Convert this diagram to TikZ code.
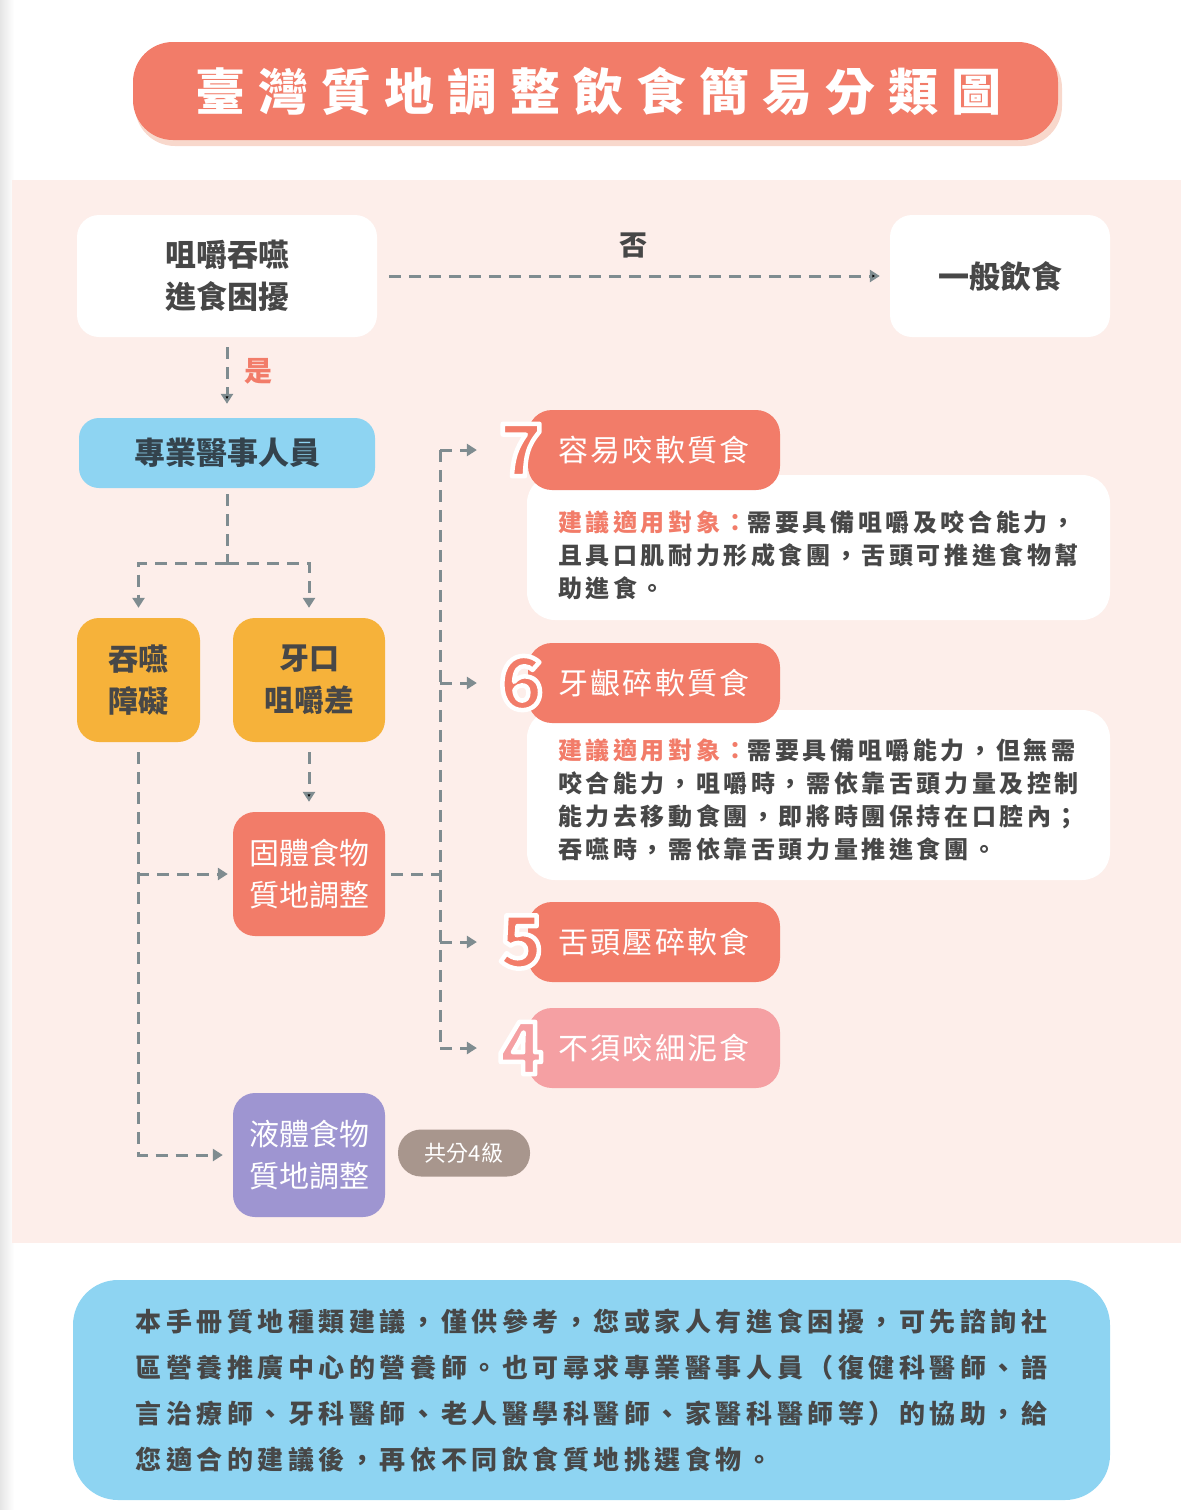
\documentclass[tikz,border=0pt]{standalone}
\usepackage{fontspec}
\usepackage{tikz}
\usetikzlibrary{arrows.meta}

\setmainfont{Noto Sans CJK TC}
\newfontfamily\titlefont{Noto Sans CJK TC}[LetterSpace=26]
\newfontfamily\levelfont{Noto Sans CJK TC}[LetterSpace=8]
\newfontfamily\descfont{Noto Sans CJK TC}[LetterSpace=15]
\newfontfamily\notefont{Noto Sans CJK TC}[LetterSpace=17.5]

\definecolor{salmon}{HTML}{F27C69}
\definecolor{titleshade}{HTML}{F8D8CC}
\definecolor{panel}{HTML}{FDEEEA}
\definecolor{amber}{HTML}{F6B23A}
\definecolor{skyblue}{HTML}{8ED4F2}
\definecolor{lilac}{HTML}{9E95D1}
\definecolor{taupe}{HTML}{A8968D}
\definecolor{rosepink}{HTML}{F5A0A3}
\definecolor{arrowgrey}{HTML}{7F8C90}
\definecolor{inkgrey}{HTML}{474747}
\definecolor{inkblue}{HTML}{34434D}

% digit with a white rim (fill, then white stroke)
\makeatletter
\newcommand\halo[1]{\pgfsys@invoke{ 2 Tr 4.5 w 1 j 1 1 1 RG }#1}
\makeatother

\tikzset{
	box/.style={shape=rectangle, rounded corners=22pt, inner sep=0pt, align=center},
	whitebox/.style={box, fill=white, text=inkgrey, font=\bfseries\fontsize{31}{42}\selectfont},
	ambox/.style={box, fill=amber, text=inkgrey, minimum width=152pt, minimum height=124pt, font=\bfseries\fontsize{30}{42}\selectfont},
	texture/.style={box, text=white, minimum width=152pt, minimum height=124pt, font=\fontsize{30}{42}\selectfont},
	level/.style={box, rounded corners=24pt, text=white, minimum width=252pt, minimum height=80pt, font=\levelfont\fontsize{30}{36}\selectfont},
	digit/.style={inner sep=0pt, font=\bfseries\fontsize{72}{72}\selectfont},
	descbox/.style={shape=rectangle, rounded corners=28pt, fill=white, minimum width=583pt},
	desc/.style={anchor=west, inner sep=0pt, align=left, text=inkgrey, font=\descfont\bfseries\fontsize{24}{33}\selectfont},
	dashline/.style={draw=arrowgrey, line width=3pt, dash pattern=on 12pt off 8pt},
	flow/.style={dashline, -{Triangle[width=12pt,length=10pt]}, shorten >=10pt},
	tolevel/.style={flow, shorten >=22pt},
	lbl/.style={inner sep=0pt, font=\bfseries\fontsize{28}{28}\selectfont},
}

\begin{document}
\begin{tikzpicture}[x=1pt,y=-1pt]
	\useasboundingbox (0,0) rectangle (1181,1510);
	% background
	\shade[left color=black!10, right color=white] (0,0) rectangle (14,1510);
	\fill[panel] (12,180) rectangle (1181,1243);
	% title
	\fill[titleshade, rounded corners=40pt] (135,48) rectangle (1062,146);
	\node[box, fill=salmon, rounded corners=40pt, minimum width=925pt, minimum height=98pt, text=white, font=\titlefont\bfseries\fontsize{50}{60}\selectfont] (title) at (595.5,91) {\hspace*{6pt}臺灣質地調整飲食簡易分類圖};

	% question and answers
	\node[whitebox, minimum width=300pt, minimum height=122pt] (ask) at (227,276) {咀嚼吞嚥\\進食困擾};
	\node[whitebox, minimum width=220pt, minimum height=122pt] (normal) at (1000,276) {一般飲食};
	\node[box, fill=skyblue, rounded corners=20pt, minimum width=296pt, minimum height=70pt, text=inkblue, font=\bfseries\fontsize{31}{40}\selectfont] (staff) at (227,453) {專業醫事人員};
	\node[ambox, minimum width=123pt] (swal) at (138.5,680) {吞嚥\\障礙};
	\node[ambox] (chew) at (309,680) {牙口\\咀嚼差};
	\node[texture, fill=salmon] (solid) at (309,874) {固體食物\\質地調整};
	\node[texture, fill=lilac] (liquid) at (309,1155) {液體食物\\質地調整};
	\node[box, fill=taupe, rounded corners=23pt, minimum width=132pt, minimum height=47pt, text=white, font=\fontsize{22}{22}\selectfont] (grade) at (464,1153) {共分4級};

	% levels
	\node[descbox, minimum height=145pt] (w7) at (818.5,547.5) {};
	\node[descbox, minimum height=170pt] (w6) at (818.5,795) {};
	\node[level, fill=salmon] (h7) at (654,450) {容易咬軟質食};
	\node[level, fill=salmon] (h6) at (654,683) {牙齦碎軟質食};
	\node[level, fill=salmon] (h5) at (654,942) {舌頭壓碎軟食};
	\node[level, fill=rosepink] (h4) at (654,1048) {不須咬細泥食};
	\node[digit, text=salmon] (d7) at (521,450) {\halo{7}};
	\node[digit, text=salmon] (d6) at (521,683) {\halo{6}};
	\node[digit, text=salmon] (d5) at (521,942) {\halo{5}};
	\node[digit, text=rosepink] (d4) at (521,1048) {\halo{4}};
	\node[desc] (t7) at (558,555) {\textcolor{salmon}{建議適用對象：}需要具備咀嚼及咬合能力，\\且具口肌耐力形成食團，舌頭可推進食物幫\\助進食。};
	\node[desc] (t6) at (558,800) {\textcolor{salmon}{建議適用對象：}需要具備咀嚼能力，但無需\\咬合能力，咀嚼時，需依靠舌頭力量及控制\\能力去移動食團，即將時團保持在口腔內；\\吞嚥時，需依靠舌頭力量推進食團。};

	% note
	\node[box, fill=skyblue, rounded corners=45pt, minimum width=1037pt, minimum height=220pt, text=inkgrey, align=left, font=\notefont\bfseries\fontsize{26}{46}\selectfont] (note) at (591.5,1390) {本手冊質地種類建議，僅供參考，您或家人有進食困擾，可先諮詢社\\區營養推廣中心的營養師。也可尋求專業醫事人員（復健科醫師、語\\言治療師、牙科醫師、老人醫學科醫師、家醫科醫師等）的協助，給\\您適合的建議後，再依不同飲食質地挑選食物。};

	% connectors
	\coordinate (split) at (227,563);
	\coordinate (bend) at (137,874);
	\coordinate (bus) at (440,874);
	\coordinate (b7) at (440,450);
	\coordinate (b6) at (440,683);
	\coordinate (b5) at (440,942);
	\coordinate (b4) at (440,1048);
	\path[flow, shorten <=12pt] (ask) edge node[lbl, above=16pt, text=inkgrey] {否} (normal);
	\path[flow, shorten <=10pt, shorten >=14pt] (ask) edge node[lbl, right=16pt, yshift=6pt, text=salmon] {是} (staff);
	\draw[dashline, shorten <=6pt] (staff) -- (split);
	\draw[flow] (split) -| (swal);
	\draw[flow] (split) -| (chew);
	\path[flow, shorten <=10pt] (chew) edge (solid);
	\draw[flow, shorten <=10pt] (swal) |- (liquid);
	\draw[flow, shorten >=5pt] (bend) -- (solid);
	\draw[dashline, shorten <=6pt] (solid) -- (bus);
	\draw[dashline] (b7) -- (b4);
	\foreach \n in {7,6,5,4}
		\draw[tolevel] (b\n) -- (d\n);
\end{tikzpicture}
\end{document}
